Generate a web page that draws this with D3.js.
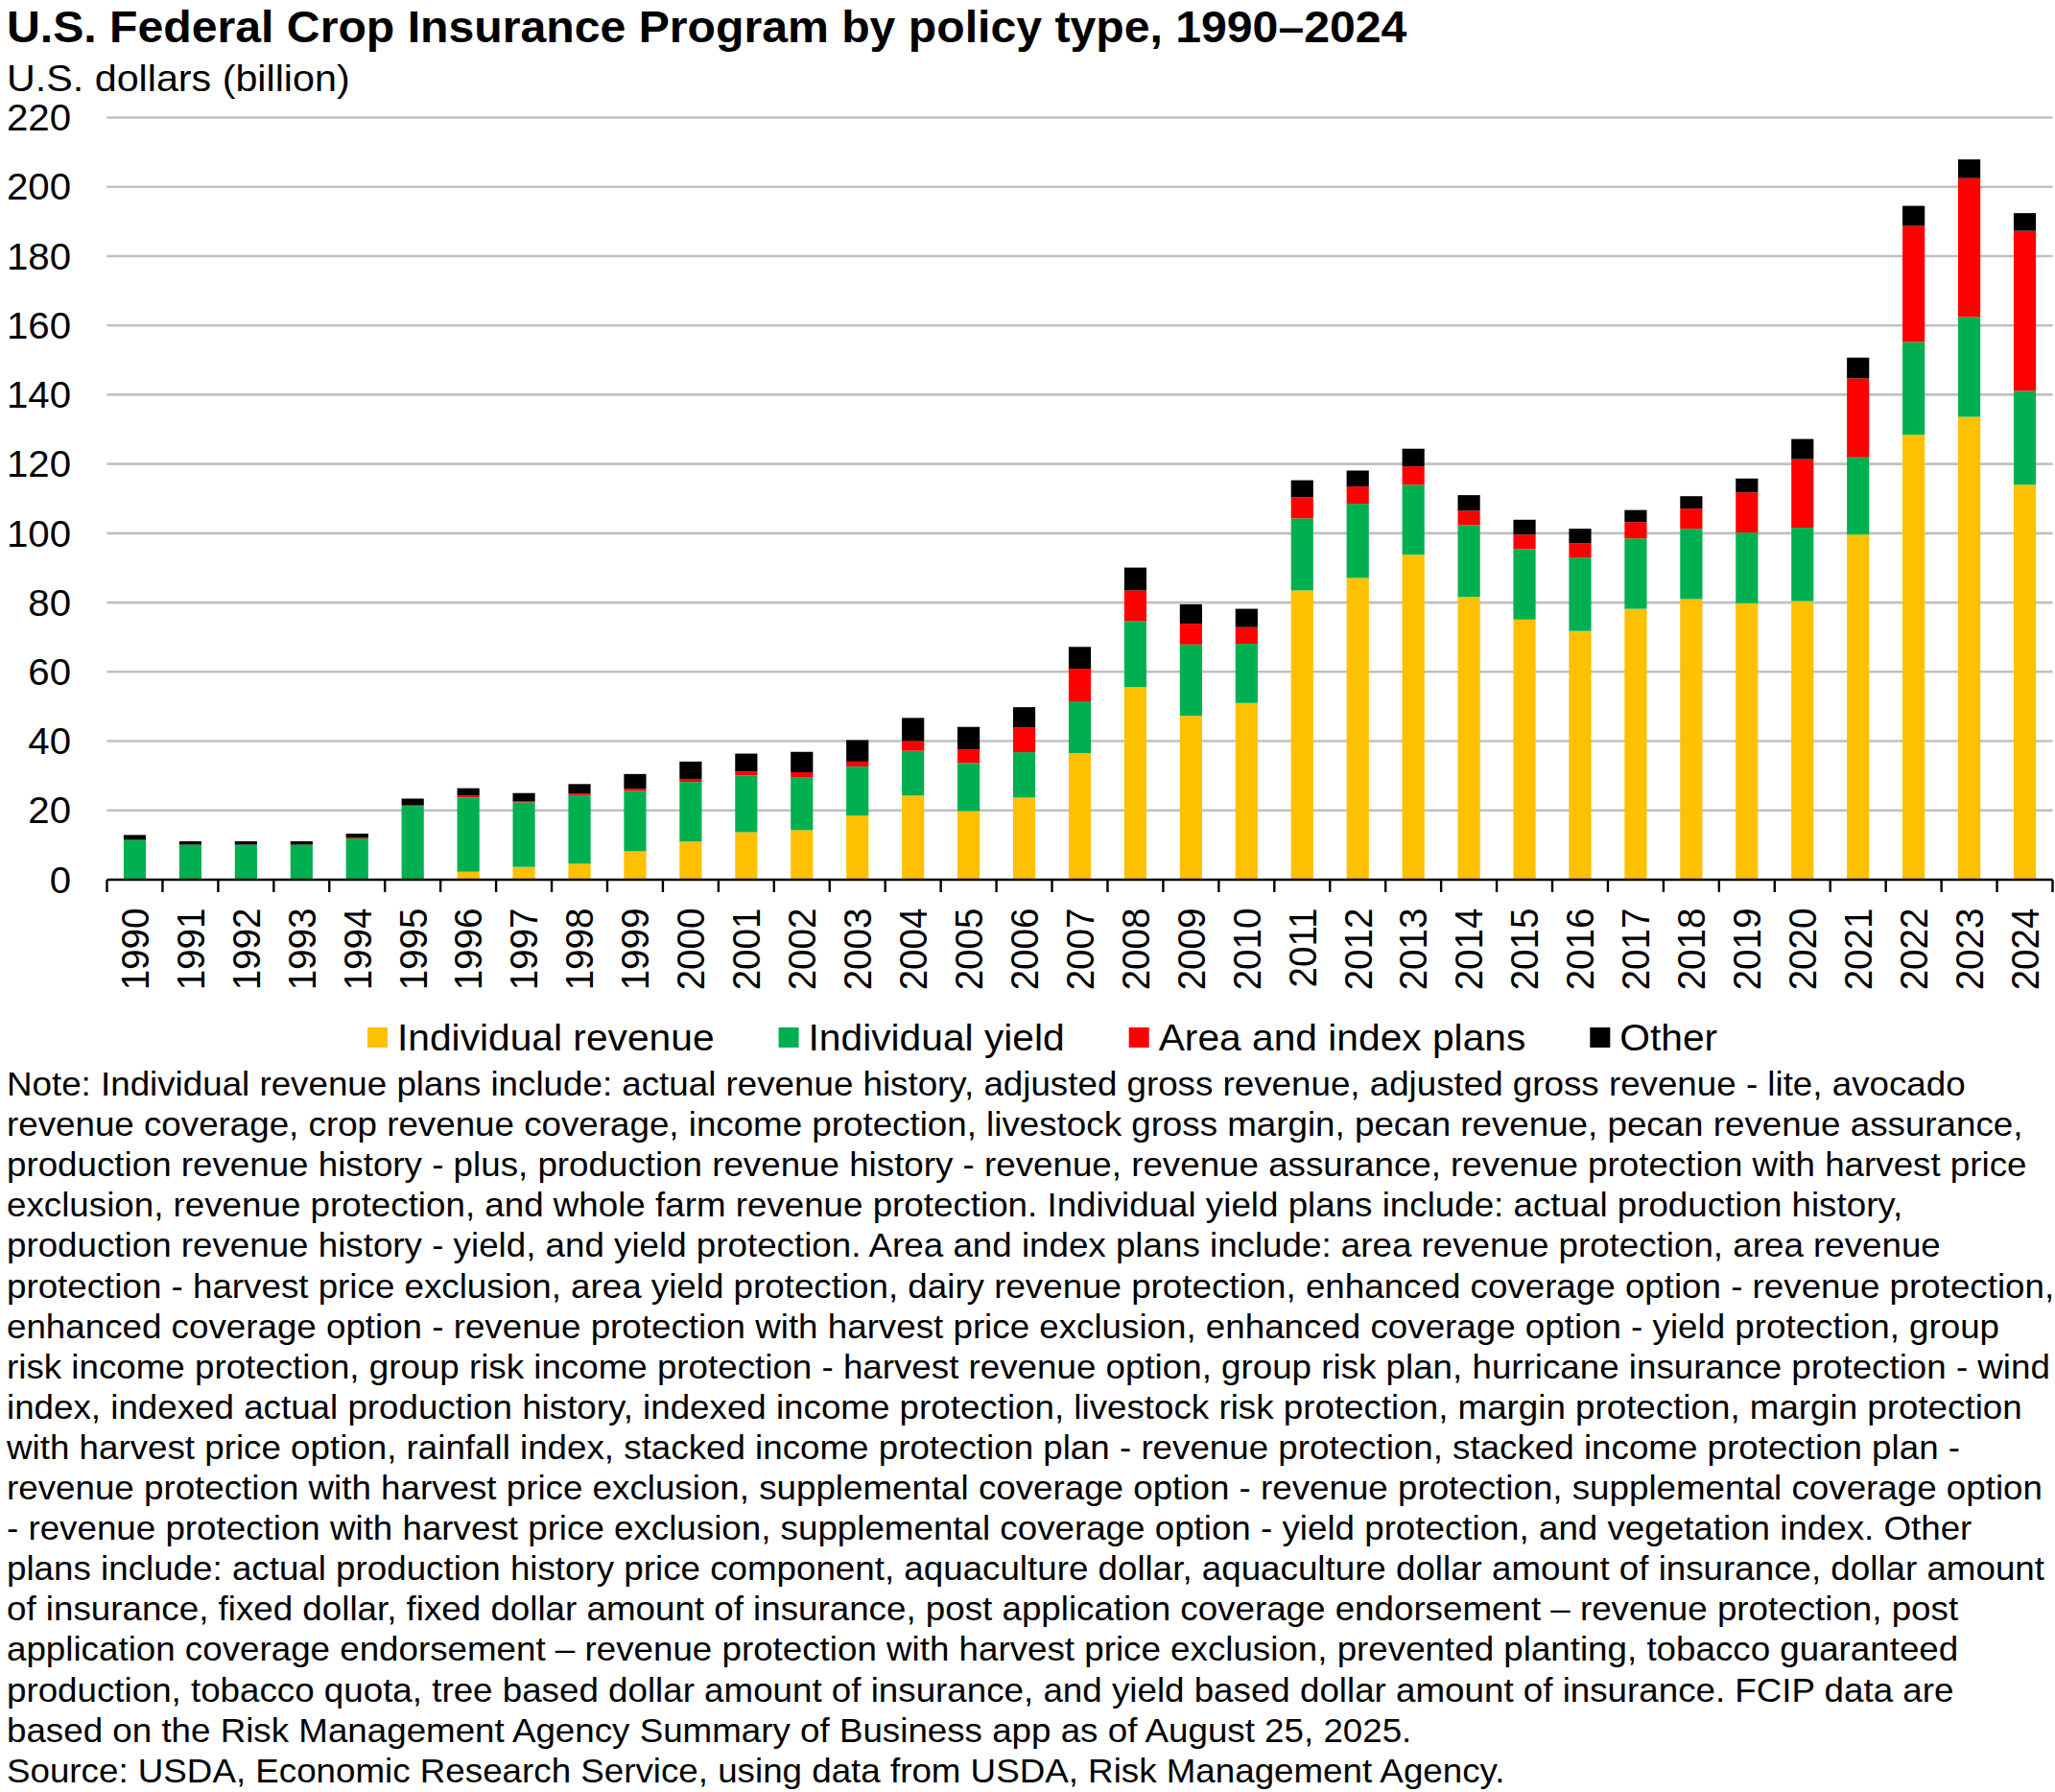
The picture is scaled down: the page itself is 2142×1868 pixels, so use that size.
<!DOCTYPE html>
<html>
<head>
<meta charset="utf-8">
<script src="https://cdn.jsdelivr.net/npm/d3@7/dist/d3.min.js"></script>
<style>
  body { margin: 0; background: #fff; }
  text { font-family: "Liberation Sans", Arial, sans-serif; fill: #000; }
</style>
</head>
<body>
<svg id="chart"></svg>
<script>
// values (billion U.S. dollars)
var years = d3.range(1990, 2025).map(String);

var individualRevenue = [0, 0, 0, 0, 0, 0, 2.3, 3.7, 4.6, 8.2,
  11.0, 13.7, 14.3, 18.5, 24.3, 19.8, 23.7, 36.5, 55.6, 47.3,
  51.0, 83.5, 87.1, 93.8, 81.6, 75.1, 71.8, 78.2, 81.0, 79.8,
  80.4, 99.6, 128.4, 133.6, 114.0];

var individualYield = [11.5, 10.1, 10.1, 10.1, 11.9, 21.3, 21.4, 18.6, 19.8, 17.4,
  17.2, 16.4, 15.3, 14.2, 12.9, 13.9, 13.1, 15.0, 19.0, 20.6,
  17.1, 20.8, 21.4, 20.2, 20.7, 20.3, 21.2, 20.3, 20.3, 20.4,
  21.2, 22.3, 26.8, 28.8, 27.1];

var areaIndex = [0, 0, 0, 0, 0.3, 0.3, 0.6, 0.4, 0.4, 0.6,
  0.9, 1.1, 1.4, 1.4, 2.8, 3.9, 7.1, 9.4, 8.9, 6.0,
  4.8, 6.1, 5.0, 5.3, 4.2, 4.2, 4.1, 4.7, 5.8, 11.6,
  19.8, 22.8, 33.5, 40.1, 46.2];

var otherPlans = [1.4, 1.0, 1.0, 1.0, 1.1, 1.8, 2.1, 2.3, 2.8, 4.3,
  5.0, 5.2, 5.9, 6.2, 6.7, 6.5, 5.9, 6.3, 6.6, 5.6,
  5.3, 4.9, 4.6, 5.1, 4.5, 4.3, 4.2, 3.5, 3.6, 4.0,
  5.8, 6.0, 5.8, 5.4, 5.1];

var seriesKeys = ["rev", "yld", "area", "oth"];
var seriesNames = ["Individual revenue", "Individual yield", "Area and index plans", "Other"];
var seriesColors = ["#FFC000", "#00B050", "#FF0000", "#000000"];

var yTicks = d3.range(0, 221, 20);

var titleText = "U.S. Federal Crop Insurance Program by policy type, 1990\u20132024";
var unitText = "U.S. dollars (billion)";

var noteLines = [
  "Note: Individual revenue plans include: actual revenue history, adjusted gross revenue, adjusted gross revenue - lite, avocado",
  "revenue coverage, crop revenue coverage, income protection, livestock gross margin, pecan revenue, pecan revenue assurance,",
  "production revenue history - plus, production revenue history - revenue, revenue assurance, revenue protection with harvest price",
  "exclusion, revenue protection, and whole farm revenue protection. Individual yield plans include: actual production history,",
  "production revenue history - yield, and yield protection. Area and index plans include: area revenue protection, area revenue",
  "protection - harvest price exclusion, area yield protection, dairy revenue protection, enhanced coverage option - revenue protection,",
  "enhanced coverage option - revenue protection with harvest price exclusion, enhanced coverage option - yield protection, group",
  "risk income protection, group risk income protection - harvest revenue option, group risk plan, hurricane insurance protection - wind",
  "index, indexed actual production history, indexed income protection, livestock risk protection, margin protection, margin protection",
  "with harvest price option, rainfall index, stacked income protection plan - revenue protection, stacked income protection plan -",
  "revenue protection with harvest price exclusion, supplemental coverage option - revenue protection, supplemental coverage option",
  "- revenue protection with harvest price exclusion, supplemental coverage option - yield protection, and vegetation index. Other",
  "plans include: actual production history price component, aquaculture dollar, aquaculture dollar amount of insurance, dollar amount",
  "of insurance, fixed dollar, fixed dollar amount of insurance, post application coverage endorsement \u2013 revenue protection, post",
  "application coverage endorsement \u2013 revenue protection with harvest price exclusion, prevented planting, tobacco guaranteed",
  "production, tobacco quota, tree based dollar amount of insurance, and yield based dollar amount of insurance. FCIP data are",
  "based on the Risk Management Agency Summary of Business app as of August 25, 2025.",
  "Source: USDA, Economic Research Service, using data from USDA, Risk Management Agency."
];

// ---------------------------------------------------------------
var W = 2142, H = 1868;
var SX = 1.05;   // the source picture is stretched a little sideways, text included

var svg = d3.select("#chart").attr("width", W).attr("height", H);
svg.append("rect").attr("width", W).attr("height", H).attr("fill", "#fff");

function label(x, y, str, size, anchor, extra) {
  var t = svg.append("text")
    .attr("transform", "translate(" + x + "," + y + ") scale(" + SX + ",1)" + (extra || ""))
    .attr("font-size", size)
    .attr("text-anchor", anchor || "start")
    .text(str);
  return t;
}

var rows = years.map(function(y, i) {
  return { year: y, rev: individualRevenue[i], yld: individualYield[i],
           area: areaIndex[i], oth: otherPlans[i] };
});

var x = d3.scaleBand().domain(years).range([111.5, 2139.5]).padding(0);
var y = d3.scaleLinear().domain([0, 220]).range([917, 122.5]);

// grid
svg.append("g").selectAll("line").data(yTicks.filter(function(d) { return d > 0; }))
  .join("line")
  .attr("x1", x.range()[0]).attr("x2", x.range()[1])
  .attr("y1", function(d) { return y(d); }).attr("y2", function(d) { return y(d); })
  .attr("stroke", "#c0c0c0").attr("stroke-width", 2.6);

// y tick labels
yTicks.forEach(function(d) {
  label(74, y(d), d, 38.3, "end").attr("dominant-baseline", "central");
});

// stacked bars
var stacked = d3.stack().keys(seriesKeys)(rows);
var barW = x.bandwidth() * 0.4;

svg.append("g").selectAll("g").data(stacked).join("g")
  .attr("fill", function(d, i) { return seriesColors[i]; })
  .selectAll("rect").data(function(d) { return d; }).join("rect")
  .attr("x", function(d) { return x(d.data.year) + (x.bandwidth() - barW) / 2; })
  .attr("width", barW)
  .attr("y", function(d) { return y(d[1]); })
  .attr("height", function(d) { return Math.max(0, y(d[0]) - y(d[1])); });

// x axis line + ticks between categories
var axis = svg.append("g").attr("transform", "translate(0," + y(0) + ")");
axis.append("line").attr("x1", x.range()[0]).attr("x2", x.range()[1])
  .attr("stroke", "#000").attr("stroke-width", 2.6);
axis.selectAll("line.tk").data(years.concat(["end"])).join("line")
  .attr("class", "tk")
  .attr("x1", function(d) { return d === "end" ? x.range()[1] : x(d); })
  .attr("x2", function(d) { return d === "end" ? x.range()[1] : x(d); })
  .attr("y1", 0).attr("y2", 13)
  .attr("stroke", "#000").attr("stroke-width", 2.4);

// rotated year labels
years.forEach(function(yr) {
  label(x(yr) + x.bandwidth() / 2, 946.5, yr, 38.6, "end", " rotate(-90)")
    .attr("dominant-baseline", "central");
});

// titles
label(7, 44, titleText, 45.9, "start").attr("font-weight", "bold");
label(7, 95, unitText, 39.3, "start");

// legend
var lx = 383;
seriesNames.forEach(function(name, i) {
  svg.append("rect").attr("x", lx).attr("y", 1071).attr("width", 21).attr("height", 21)
    .attr("fill", seriesColors[i]);
  var t = label(lx + 31, 1095, name, 38.8, "start");
  lx += 31 + t.node().getComputedTextLength() * SX + 67;
});

// note and source
noteLines.forEach(function(line, i) {
  label(7, 1142 + i * 42.1, line, 35, "start");
});
</script>
</body>
</html>
